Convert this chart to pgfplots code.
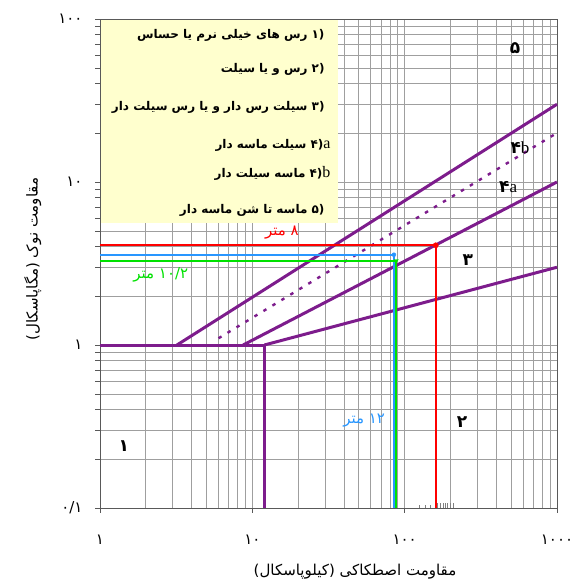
\documentclass[border=0pt]{standalone}
\usepackage{fontspec}
\usepackage{pgfplots}
\pgfplotsset{compat=1.18}
\TeXXeTstate=1
\newfontfamily\fa[Script=Arabic]{DejaVu Sans}
\newfontfamily\lat{Liberation Serif}
\definecolor{zone}{RGB}{125,28,140}
\definecolor{legbg}{RGB}{255,255,206}
\definecolor{lblue}{RGB}{40,150,255}
\definecolor{lgreen}{RGB}{0,225,0}
\newcommand{\legfont}{\fa\bfseries\fontsize{12}{14}\selectfont}
\newcommand{\zonefont}{\fa\bfseries\fontsize{17}{19}\selectfont}
\newcommand{\labfont}{\fa\fontsize{15}{17}\selectfont}

\begin{document}
\begin{tikzpicture}
\begin{axis}[
  name=ax,
  xmode=log, ymode=log,
  scale only axis, width=457pt, height=489pt,
  xmin=1, xmax=1000, ymin=0.1, ymax=100,
  xtick={1,10,100,1000},
  xticklabels={{۱},{۱۰},{۱۰۰},{۱۰۰۰}},
  ytick={0.1,1,10,100},
  yticklabels={{۰/۱},{۱},{۱۰},{۱۰۰}},
  ticklabel style={font=\fa\fontsize{15}{17}\selectfont},
  xticklabel style={yshift=-18pt},
  yticklabel style={xshift=-9pt},
  grid=both,
  major grid style={draw=gray!75, line width=0.8pt},
  minor grid style={draw=gray!75, line width=0.8pt},
  axis line style={draw=black!65, line width=0.9pt},
  tick align=outside, xtick pos=bottom, ytick pos=left,
  major tick length=5pt, minor tick length=5pt,
  tick style={draw=black!65, line width=0.8pt},
  minor x tick style={draw=none},
  xlabel={{\labfont (کیلوپاسکال)\ \beginR مقاومت اصطکاکی\endR}},
  ylabel={{\labfont (مگاپاسکال)\ \beginR مقاومت نوک\endR}},
  xlabel style={at={(axis description cs:0.558,-0.131)}, anchor=center},
  ylabel style={at={(axis description cs:-0.147,0.509)}, anchor=center},
  clip=false,
]
% legend box
\fill[legbg] (rel axis cs:0.003,0.583) rectangle (rel axis cs:0.521,0.998);
\node[anchor=east, font=\legfont] at (rel axis cs:0.499,0.967) {\beginR رس های خیلی نرم یا حساس\endR\ (۱};
\node[anchor=east, font=\legfont] at (rel axis cs:0.499,0.896) {\beginR رس و یا سیلت\endR\ (۲};
\node[anchor=east, font=\legfont] at (rel axis cs:0.499,0.820) {\beginR سیلت رس دار و یا رس سیلت دار\endR\ (۳};
\node[anchor=east, font=\legfont] at (rel axis cs:0.512,0.742) {\beginR سیلت ماسه دار\endR\ (۴{\lat\mdseries\fontsize{16}{16}\selectfont a}};
\node[anchor=east, font=\legfont] at (rel axis cs:0.512,0.685) {\beginR ماسه سیلت دار\endR\ (۴{\lat\mdseries\fontsize{16}{16}\selectfont b}};
\node[anchor=east, font=\legfont] at (rel axis cs:0.499,0.609) {\beginR ماسه تا شن ماسه دار\endR\ (۵};

% zone boundaries
\addplot[zone, line width=3pt] coordinates {(1,1) (12,1) (12,0.1)};
\addplot[zone, line width=3pt] coordinates {(12,1) (1000,3)};
\addplot[zone, line width=3pt] coordinates {(8.7,1) (1000,10)};
\addplot[zone, line width=3pt] coordinates {(3.2,1) (1000,30)};
\addplot[zone, line width=2.4pt, dash pattern=on 3.5pt off 7pt] coordinates {(6,1.1) (1000,20)};

% readings
\addplot[red, line width=1.8pt] coordinates {(1,4.09) (160,4.09) (160,0.1)};
\addplot[lblue, line width=1.8pt] coordinates {(1,3.58) (85,3.58) (85,0.1)};
\addplot[lgreen, line width=1.8pt] coordinates {(1,3.29) (88,3.29) (88,0.1)};
\addplot[red, only marks, mark=*, mark size=2.6pt] coordinates {(160,4.09)};
\addplot[lblue, only marks, mark=*, mark size=2pt] coordinates {(85,3.58)};
\addplot[lgreen, only marks, mark=triangle*, mark size=2.4pt, mark options={rotate=180}] coordinates {(88,3.29)};

\node[red, font=\labfont] at (rel axis cs:0.398,0.564) {\beginR ۸ متر\endR};
\node[lgreen, font=\labfont] at (rel axis cs:0.133,0.476) {\beginR ۱۰/۲ متر\endR};
\node[lblue, font=\labfont] at (rel axis cs:0.578,0.179) {\beginR ۱۲ متر\endR};

% zone numbers
\node[font=\zonefont] at (rel axis cs:0.908,0.941) {۵};
\node[font=\zonefont] at (rel axis cs:0.919,0.736) {۴{\lat\mdseries b}};
\node[font=\zonefont] at (rel axis cs:0.893,0.656) {۴{\lat\mdseries a}};
\node[font=\zonefont] at (rel axis cs:0.805,0.507) {۳};
\node[font=\zonefont] at (rel axis cs:0.792,0.176) {۲};
\node[font=\zonefont] at (rel axis cs:0.052,0.127) {۱};

% stray small ticks near the bottom edge
\draw[gray, line width=0.5pt] (axis cs:124,0.1) -- ++(0pt,3pt) (axis cs:136,0.1) -- ++(0pt,3pt)
  (axis cs:147,0.1) -- ++(0pt,3pt) (axis cs:163,0.1) -- ++(0pt,5pt) (axis cs:171,0.1) -- ++(0pt,5pt)
  (axis cs:179,0.1) -- ++(0pt,5pt) (axis cs:184,0.1) -- ++(0pt,5pt) (axis cs:190,0.1) -- ++(0pt,5pt)
  (axis cs:199,0.1) -- ++(0pt,5pt) (axis cs:208,0.1) -- ++(0pt,5pt);
\end{axis}
\path (ax.south west) ++(-100pt,-79pt) rectangle ++(582pt,587pt);
\end{tikzpicture}
\end{document}
